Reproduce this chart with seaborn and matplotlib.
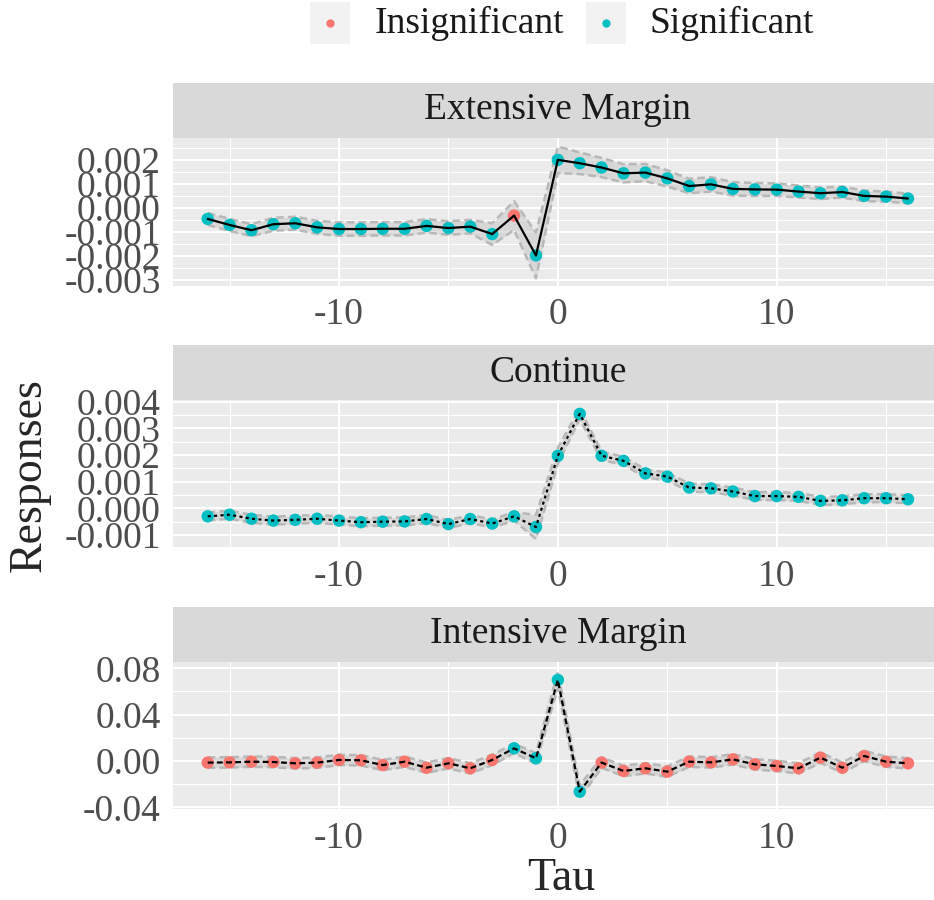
import matplotlib
matplotlib.use("Agg")
import numpy as np
import pandas as pd
import matplotlib.pyplot as plt
import seaborn as sns
from matplotlib.ticker import MultipleLocator, FuncFormatter
from matplotlib.patches import Rectangle

# event time
tau = list(range(-16, 17))

# Extensive Margin
ext_resp = [-0.00047, -0.00072, -0.00094, -0.00069, -0.00065, -0.00082, -0.00089, -0.00089,
            -0.00088, -0.00088, -0.00076, -0.00085, -0.00079, -0.00110, -0.00033, -0.00199,
            0.00199, 0.00185, 0.00167, 0.00143, 0.00146, 0.00122, 0.00090, 0.00097,
            0.00078, 0.00076, 0.00075, 0.00067, 0.00060, 0.00065, 0.00049, 0.00046, 0.00038]
ext_ci = [0.00025, 0.00025, 0.00025, 0.00027, 0.00027, 0.00027, 0.00028, 0.00028,
          0.00028, 0.00028, 0.00028, 0.00028, 0.00028, 0.00045, 0.00060, 0.00095,
          0.00055, 0.00045, 0.00040, 0.00038, 0.00036, 0.00034, 0.00030, 0.00030,
          0.00028, 0.00027, 0.00026, 0.00025, 0.00024, 0.00023, 0.00022, 0.00021, 0.00020]
ext_sig = "SSSSSSSSSSSSSSISSSSSSSSSSSSSSSSSS"

# Continue
cont_resp = [-0.00030, -0.00024, -0.00039, -0.00046, -0.00043, -0.00039, -0.00046, -0.00052,
             -0.00050, -0.00049, -0.00040, -0.00059, -0.00040, -0.00057, -0.00030, -0.00070,
             0.00197, 0.00354, 0.00197, 0.00178, 0.00131, 0.00119, 0.00078, 0.00075,
             0.00063, 0.00046, 0.00046, 0.00043, 0.00028, 0.00030, 0.00038, 0.00038, 0.00034]
cont_ci = [0.00015, 0.00015, 0.00015, 0.00015, 0.00015, 0.00015, 0.00015, 0.00015,
           0.00015, 0.00015, 0.00015, 0.00015, 0.00015, 0.00015, 0.00016, 0.00045,
           0.00030, 0.00020, 0.00016, 0.00015, 0.00015, 0.00015, 0.00015, 0.00015,
           0.00015, 0.00015, 0.00015, 0.00015, 0.00015, 0.00015, 0.00015, 0.00015, 0.00015]
cont_sig = "SSSSSSSSSSSSSSSSSSSSSSSSSSSSSSSSS"

# Intensive Margin
int_resp = [-0.0014, -0.0012, -0.0006, -0.0009, -0.0020, -0.0014, 0.0009, 0.0006,
            -0.0035, -0.0006, -0.0058, -0.0020, -0.0063, 0.0009, 0.0109, 0.0023,
            0.0700, -0.0265, -0.0014, -0.0086, -0.0063, -0.0092, -0.0006, -0.0012,
            0.0014, -0.0029, -0.0043, -0.0063, 0.0029, -0.0058, 0.0043, -0.0006, -0.0020]
int_ci = [0.0045, 0.0045, 0.0045, 0.0045, 0.0045, 0.0045, 0.0045, 0.0045,
          0.0045, 0.0045, 0.0045, 0.0045, 0.0045, 0.0045, 0.0040, 0.0045,
          0.0070, 0.0055, 0.0045, 0.0045, 0.0045, 0.0045, 0.0045, 0.0045,
          0.0045, 0.0045, 0.0045, 0.0045, 0.0045, 0.0045, 0.0045, 0.0045, 0.0045]
int_sig = "IIIIIIIIIIIIIISSSSIIIIIIIIIIIIIII"

sig_names = {"S": "Significant", "I": "Insignificant"}
hue_order = ["Insignificant", "Significant"]
pal = ["#F8766D", "#00BFC4"]

sns.set_style("darkgrid", {"axes.facecolor": "#ebebeb", "grid.color": "white"})
plt.rcParams["font.family"] = ["Liberation Serif", "DejaVu Serif"]
plt.rcParams["axes.unicode_minus"] = False
plt.rcParams["lines.scale_dashes"] = False

W, H = 934, 900
fig = plt.figure(figsize=(W / 100, H / 100), dpi=100)


def box(left, top, right, bottom):
    return [left / W, 1 - bottom / H, (right - left) / W, (bottom - top) / H]


# title, values, ci, significance, line style, ylim, y step, label format, strip px, panel px
panels = [
    ("Extensive Margin", ext_resp, ext_ci, ext_sig, "-", (-0.00325, 0.0029), 0.001, "{:.3f}",
     (82.7, 137.7), (138, 285.7)),
    ("Continue", cont_resp, cont_ci, cont_sig, (0, (2.2, 2.4)), (-0.00146, 0.00406), 0.001, "{:.3f}",
     (345, 400), (400, 547.3)),
    ("Intensive Margin", int_resp, int_ci, int_sig, (0, (4.2, 2.4)), (-0.0417, 0.0857), 0.04, "{:.2f}",
     (606.7, 661.7), (661.7, 809.3)),
]

left_px, right_px = 172.7, 943

for title, resp, ci, sig, ls, ylim, step, fmt, strip, pan in panels:
    df = pd.DataFrame({"tau": tau, "resp": resp, "ci": ci,
                       "sig": [sig_names[c] for c in sig]})
    df["lo"] = df["resp"] - df["ci"]
    df["hi"] = df["resp"] + df["ci"]

    ax = fig.add_axes(box(left_px, pan[0], right_px, pan[1]))
    ax.fill_between(df["tau"], df["lo"], df["hi"], color="#c8c8c8", alpha=0.55, lw=0, zorder=1)
    for col in ["lo", "hi"]:
        sns.lineplot(data=df, x="tau", y=col, ax=ax, color="#b8b8b8", lw=1.8,
                     linestyle=(0, (5.5, 3)), errorbar=None, zorder=1.2)
    sns.scatterplot(data=df, x="tau", y="resp", hue="sig", hue_order=hue_order, palette=pal,
                    s=80, linewidth=0, legend=False, ax=ax, zorder=1.5)
    sns.lineplot(data=df, x="tau", y="resp", ax=ax, color="black", lw=1.6,
                 linestyle=ls, errorbar=None, zorder=2)

    ax.set_xlim(-17.6, 17.6)
    ax.set_ylim(*ylim)
    ax.xaxis.set_major_locator(MultipleLocator(10))
    ax.xaxis.set_minor_locator(MultipleLocator(5))
    ax.yaxis.set_major_locator(MultipleLocator(step))
    ax.yaxis.set_minor_locator(MultipleLocator(step / 2))
    ax.yaxis.set_major_formatter(FuncFormatter(
        lambda v, p, f=fmt: f.format(v).replace("-0.000", "0.000").replace("-0.00", "0.00")
        if abs(v) < 1e-12 else f.format(v)))
    ax.grid(which="major", color="white", lw=1.5)
    ax.grid(which="minor", color="white", lw=0.8)
    ax.tick_params(which="major", length=4.5, width=1.2, color="#333333",
                   labelcolor="#4d4d4d", labelsize=27, pad=4)
    ax.tick_params(which="minor", length=0)
    ax.set_xlabel("")
    ax.set_ylabel("")
    for s in ax.spines.values():
        s.set_visible(False)

    sax = fig.add_axes(box(left_px, strip[0], right_px, strip[1]))
    sax.set_facecolor("#d9d9d9")
    sax.set_xticks([])
    sax.set_yticks([])
    sax.grid(False)
    for s in sax.spines.values():
        s.set_visible(False)
    sax.text(0.5, 0.5, title, ha="center", va="center", size=27, color="#1a1a1a",
             transform=sax.transAxes)

fig.text(29 / W, 1 - 475 / H, "Responses", rotation=90, ha="center", va="center", size=33)
fig.text(561 / W, 1 - 879 / H, "Tau", ha="center", va="center", size=33)

# legend drawn in pixel coordinates
lax = fig.add_axes([0, 1 - 50 / H, 1, 50 / H])
lax.set_xlim(0, W)
lax.set_ylim(50, 0)
lax.axis("off")
for (x0, txt_x, name), c in zip([(310, 375, "Insignificant"), (586, 650, "Significant")], pal):
    lax.add_patch(Rectangle((x0, 2), 40, 42, color="#f2f2f2", lw=0))
    lax.plot([x0 + 20], [23], "o", color=c, ms=6, mew=0)
    lax.text(txt_x, 23, name, ha="left", va="center", size=27, color="#1a1a1a")

fig.savefig("out.png", dpi=100)
